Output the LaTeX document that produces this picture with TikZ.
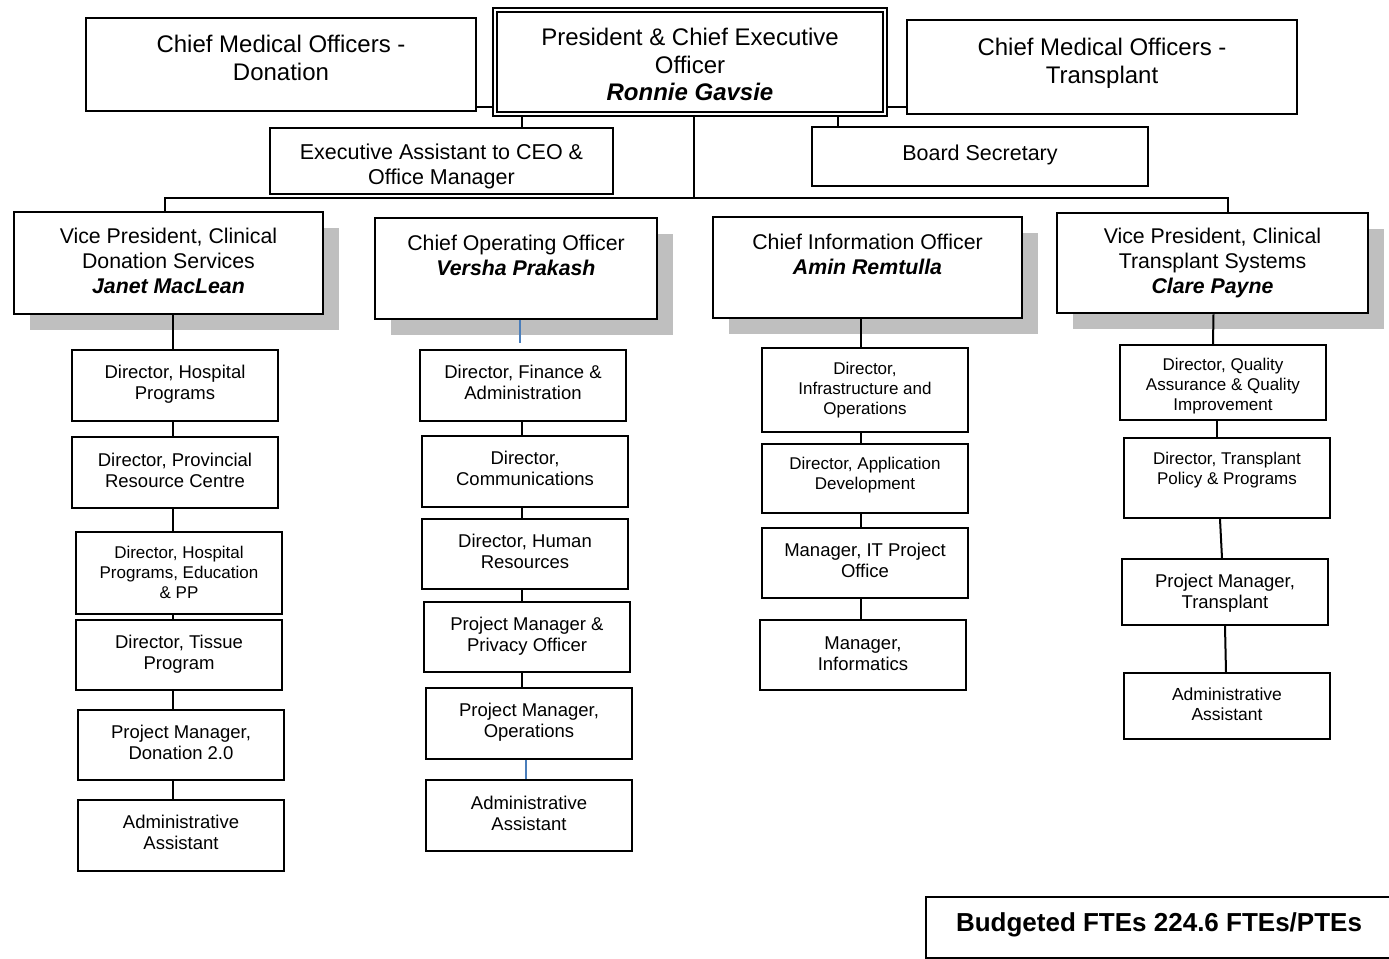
\documentclass[tikz,border=0pt]{standalone}
\usepackage{fontspec}
\setmainfont{Liberation Sans}
\usetikzlibrary{shadows}

\definecolor{linkblue}{HTML}{4A7EBB}
\newcommand{\staffname}[1]{\textbf{\textit{#1}}}

% box from its px corners: name, style, left, top, right, bottom, last baseline, font px, text
\newcommand{\orgnode}[9]{%
    \pgfmathsetmacro{\bcx}{(#3+#5)/2}%
    \pgfmathsetmacro{\bcy}{(#4+#6)/2}%
    \pgfmathsetmacro{\bwid}{(#5-#3)/2}%
    \pgfmathsetmacro{\bhgt}{(#7-#4)/2}%
    \pgfmathsetmacro{\bdep}{(#6-#7)/2}%
    \pgfmathsetmacro{\bfnt}{#8/2}%
    \pgfmathsetmacro{\blead}{#8*0.58}%
    \node[#2, minimum width=\bwid pt, text height=\bhgt pt, text depth=\bdep pt,
          font=\fontsize{\bfnt}{\blead}\selectfont] (#1) at (\bcx,\bcy) {#9};%
}

\begin{document}
\begin{tikzpicture}[
    x=0.5pt, y=-0.5pt,
    % --- Styles ---
    % text block hangs on its last baseline (inner sep 0, height from text height/depth)
    orgbox/.style={draw, line width=1pt, fill=white, align=center, inner sep=0pt},
    % heavier frame for the top offices
    headbox/.style={orgbox, line width=1.4pt},
    % division heads get a grey offset block
    shadowbox/.style={headbox, general shadow={fill=gray!50, draw=none, shadow xshift=8pt, shadow yshift=-8pt}},
    link/.style={draw=black, line width=1pt},
    bluelink/.style={draw=linkblue, line width=1pt}
]
\useasboundingbox (0,0) rectangle (1389,959);

%================TOP OFFICES================
\orgnode{cmod}{headbox}{86}{18}{476}{111}{80}{24}{Chief Medical Officers -\\Donation}
\orgnode{cmot}{headbox}{907}{20}{1297}{114}{83}{24}{Chief Medical Officers -\\Transplant}
\orgnode{exa}{orgbox}{270}{128}{613}{194}{184}{21.5}{Executive Assistant to CEO \&\\Office Manager}
\orgnode{bsec}{orgbox}{812}{127}{1148}{186}{160}{21.5}{Board Secretary}

% CEO, double frame
\node[orgbox, double, line width=1pt, double distance=1pt, minimum width=195pt,
      text height=45.4pt, text depth=6.6pt, font=\fontsize{12}{13.8}\selectfont]
      (ceo) at (690,62) {President \& Chief Executive\\Officer\\\staffname{Ronnie Gavsie}};

%================DIVISION HEADS================
\orgnode{vpd}{shadowbox}{14}{212}{323}{314}{293}{21.3}{Vice President, Clinical\\Donation Services\\\staffname{Janet MacLean}}
\orgnode{coo}{shadowbox}{375}{218}{657}{319}{275}{21.3}{Chief Operating Officer\\\staffname{Versha Prakash}}
\orgnode{cio}{shadowbox}{713}{217}{1022}{318}{274}{21.3}{Chief Information Officer\\\staffname{Amin Remtulla}}
\orgnode{vpt}{shadowbox}{1057}{213}{1368}{313}{293}{21.3}{Vice President, Clinical\\Transplant Systems\\\staffname{Clare Payne}}

%================COLUMNS================
% donation
\orgnode{d1}{orgbox}{72}{350}{278}{421}{399.5}{18.5}{Director, Hospital\\Programs}
\orgnode{d2}{orgbox}{72}{437}{278}{508}{487.5}{18.5}{Director, Provincial\\Resource Centre}
\orgnode{d3}{orgbox}{76}{532}{282}{614}{598.4}{17}{Director, Hospital\\Programs, Education\\\& PP}
\orgnode{d4}{orgbox}{76}{620}{282}{690}{669.5}{18.5}{Director, Tissue\\Program}
\orgnode{d5}{orgbox}{78}{710}{284}{780}{759.5}{18.5}{Project Manager,\\Donation 2.0}
\orgnode{d6}{orgbox}{78}{800}{284}{871}{849.5}{18.5}{Administrative\\Assistant}
% operations
\orgnode{c1}{orgbox}{420}{350}{626}{421}{399.5}{18.5}{Director, Finance \&\\Administration}
\orgnode{c2}{orgbox}{422}{436}{628}{507}{485.5}{18.5}{Director,\\Communications}
\orgnode{c3}{orgbox}{422}{519}{628}{589}{568.5}{18.5}{Director, Human\\Resources}
\orgnode{c4}{orgbox}{424}{602}{630}{672}{651.5}{18.5}{Project Manager \&\\Privacy Officer}
\orgnode{c5}{orgbox}{426}{688}{632}{759}{737.5}{18.5}{Project Manager,\\Operations}
\orgnode{c6}{orgbox}{426}{780}{632}{851}{830.5}{18.5}{Administrative\\Assistant}
% information
\orgnode{i1}{orgbox}{762}{348}{968}{432}{414.4}{17}{Director,\\Infrastructure and\\Operations}
\orgnode{i2}{orgbox}{762}{444}{968}{513}{489.7}{17}{Director, Application\\Development}
\orgnode{i3}{orgbox}{762}{528}{968}{598}{577.5}{18.5}{Manager, IT Project\\Office}
\orgnode{i4}{orgbox}{760}{620}{966}{690}{670.5}{18.5}{Manager,\\Informatics}
% transplant
\orgnode{t1}{orgbox}{1120}{345}{1326}{420}{410.4}{17}{Director, Quality\\Assurance \& Quality\\Improvement}
\orgnode{t2}{orgbox}{1124}{438}{1330}{518}{484.7}{17}{Director, Transplant\\Policy \& Programs}
\orgnode{t3}{orgbox}{1122}{559}{1328}{625}{608.5}{18.5}{Project Manager,\\Transplant}
\orgnode{t4}{orgbox}{1124}{673}{1330}{739}{720.3}{17.5}{Administrative\\Assistant}

% FTE total, right side runs off the page
\node[orgbox, minimum width=233pt, text height=17pt, text depth=13.5pt,
      font=\bfseries\fontsize{13}{15}\selectfont]
      (fte) at (1159,927.5) {Budgeted FTEs 224.6 FTEs/PTEs};

%================CONNECTORS================
\coordinate (lk) at (0,107);
\coordinate (ea) at (522,0);
\coordinate (bs) at (838,0);
\coordinate (bar) at (694,198);

\draw[link, line width=1.4pt] (cmod.east |- lk) -- (ceo.west |- lk);
\draw[link, line width=1.4pt] (ceo.east |- lk) -- (cmot.west |- lk);
\draw[link] (ceo.south -| ea) -- (exa.north -| ea);
\draw[link] (ceo.south -| bs) -- (bsec.north -| bs);

% trunk and bar to the two vice presidents
\draw[link] (ceo.south -| bar) -- (bar);
\draw[link] ([xshift=-1.75pt]vpd.north) |- (bar) -| ([xshift=7.75pt]vpt.north);

% columns
\coordinate (k1) at (173,0);
\coordinate (k2) at (522,0);
\coordinate (k3) at (861,0);
\foreach \pa/\pb in {vpd/d1, d1/d2, d2/d3, d3/d4, d4/d5, d5/d6}
    \draw[link] (\pa.south -| k1) -- (\pb.north -| k1);
\foreach \pa/\pb in {c1/c2, c2/c3, c3/c4, c4/c5}
    \draw[link] (\pa.south -| k2) -- (\pb.north -| k2);
\foreach \pa/\pb in {cio/i1, i1/i2, i2/i3, i3/i4}
    \draw[link] (\pa.south -| k3) -- (\pb.north -| k3);

% stray blue links under operations
\coordinate (stub) at (520,343);
\coordinate (k2b) at (526,0);
\draw[bluelink] (coo.south -| stub) -- (stub);
\draw[bluelink] (c5.south -| k2b) -- (c6.north -| k2b);

% transplant column, slightly skewed
\draw[link] ([xshift=0.5pt]vpt.south) -- ([xshift=-5pt]t1.north);
\draw[link] ([xshift=-3pt]t1.south) -- ([xshift=-5pt]t2.north);
\draw[link] ([xshift=-3.5pt]t2.south) -- ([xshift=-1.5pt]t3.north);
\draw[link] (t3.south) -- ([xshift=-0.5pt]t4.north);

\end{tikzpicture}
\end{document}
